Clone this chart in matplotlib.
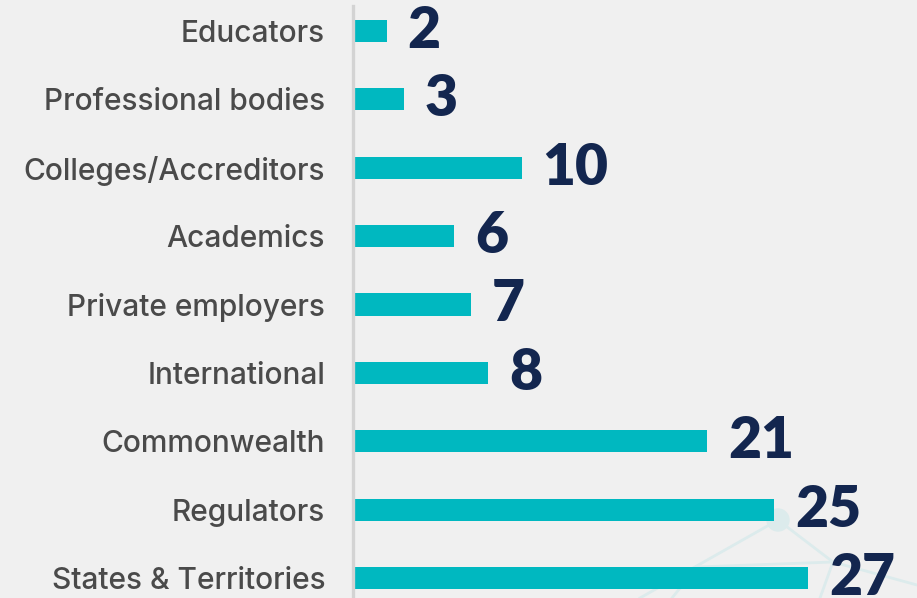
import matplotlib
matplotlib.use('Agg')
import matplotlib.pyplot as plt
from matplotlib.patches import Circle
from matplotlib.lines import Line2D

# data, top to bottom as in the picture
categories = ['Educators', 'Professional bodies', 'Colleges/Accreditors', 'Academics',
              'Private employers', 'International', 'Commonwealth', 'Regulators',
              'States & Territories']
counts = [2, 3, 10, 6, 7, 8, 21, 25, 27]

BG = '#f0f0f0'
TEAL = '#00b8c0'
NAVY = '#13264f'
GREY = '#4a4a4a'

W, H = 917, 598
fig = plt.figure(figsize=(W / 100, H / 100), dpi=100, facecolor=BG)

# faint network decoration in the background (bottom right)
deco = '#dcebec'
for (x0, y0), (x1, y1) in [((778, 520), (640, 598)), ((778, 520), (833, 562)),
                           ((697, 567), (833, 562)), ((833, 562), (820, 598)),
                           ((833, 562), (917, 585)), ((697, 567), (672, 598))]:
    fig.add_artist(Line2D([x0 / W, x1 / W], [1 - y0 / H, 1 - y1 / H],
                          color=deco, lw=2, zorder=0))
dot = Circle((778 / 100, (H - 520) / 100), 11 / 100, color=deco, zorder=0,
             transform=fig.dpi_scale_trans)
fig.add_artist(dot)

x0px, y_top, y_bot = 353, 6, 598
ax = fig.add_axes([x0px / W, 0, 1 - x0px / W, (y_bot - y_top) / H])
ax.patch.set_alpha(0)

pos = list(range(len(categories)))
ax.barh(pos, counts, height=0.322, color=TEAL, zorder=2)

step, first = 68.375, 31
ax.set_ylim((y_bot - first) / step, (y_top - first) / step)
ax.set_xlim(0, (W - x0px) / 16.85)

for i, v in zip(pos, counts):
    ax.annotate(str(v), xy=(v, i), xytext=(21, -17), textcoords='offset pixels',
                va='baseline', ha='left', fontsize=41, fontweight='heavy',
                color=NAVY, family=['Lato', 'DejaVu Sans'])

ax.set_yticks(pos)
ax.set_yticklabels(categories, fontsize=21.5, color=GREY,
                   family=['Inter', 'DejaVu Sans'], fontweight='medium')
ax.tick_params(axis='y', length=0, pad=20)
ax.set_xticks([])
for s in ['top', 'right', 'bottom']:
    ax.spines[s].set_visible(False)
ax.spines['left'].set_color('#d3d3d3')
ax.spines['left'].set_linewidth(2.4)
ax.spines['left'].set_zorder(3)

fig.savefig('out.png', dpi=100, facecolor=BG)
